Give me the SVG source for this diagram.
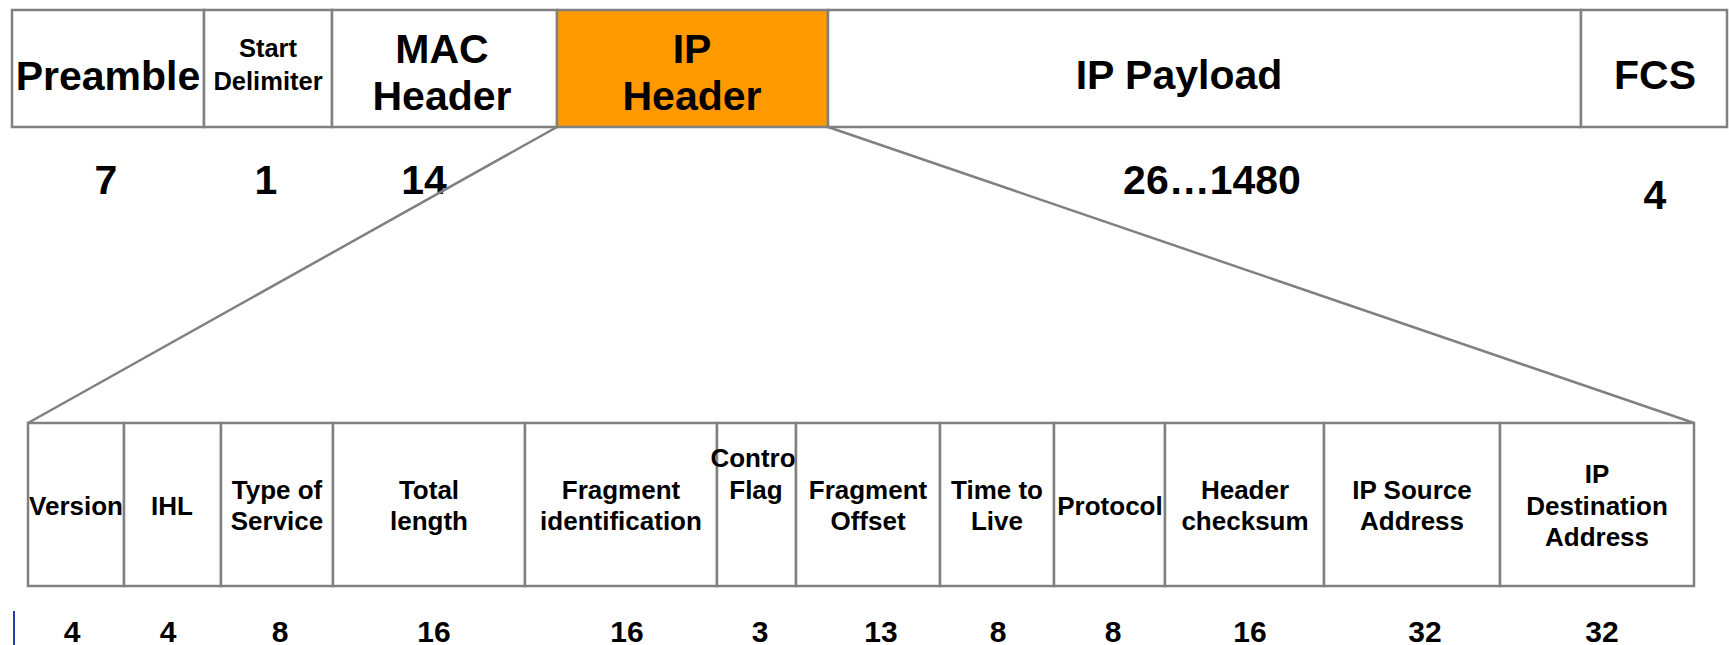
<svg xmlns="http://www.w3.org/2000/svg" width="1729" height="645" viewBox="0 0 1729 645">
  <style>
    .cell { fill: #ffffff; stroke: #808080; stroke-width: 2.5; }
    .hl { fill: #ff9900; }
    .big { font-family: "Liberation Sans", Arial, sans-serif; font-weight: bold; font-size: 41px; fill: #000; text-anchor: middle; }
    .small { font-family: "Liberation Sans", Arial, sans-serif; font-weight: bold; font-size: 25.5px; fill: #000; text-anchor: middle; }
    .fld { font-family: "Liberation Sans", Arial, sans-serif; font-weight: bold; font-size: 26px; fill: #000; text-anchor: middle; }
    .num { font-family: "Liberation Sans", Arial, sans-serif; font-weight: bold; font-size: 30px; fill: #000; text-anchor: middle; }
    .link { stroke: #808080; stroke-width: 2.5; fill: none; }
  </style>
  <rect width="1729" height="645" fill="#ffffff"/>

  <!-- Ethernet frame -->
  <g id="preamble">
    <rect class="cell" x="12" y="10" width="192" height="117"/>
    <text class="big" x="108" y="90">Preamble</text>
    <text class="big" x="106" y="194">7</text>
  </g>
  <g id="start-delimiter">
    <rect class="cell" x="204" y="10" width="128" height="117"/>
    <text class="small" x="268" y="57">Start</text>
    <text class="small" x="268" y="90">Delimiter</text>
    <text class="big" x="266" y="194">1</text>
  </g>
  <g id="mac-header">
    <rect class="cell" x="332" y="10" width="225" height="117"/>
    <text class="big" x="442" y="63">MAC</text>
    <text class="big" x="442" y="110">Header</text>
    <text class="big" x="424" y="194">14</text>
  </g>
  <g id="ip-header">
    <rect class="cell hl" x="557" y="10" width="271" height="117"/>
    <text class="big" x="692" y="63">IP</text>
    <text class="big" x="692" y="110">Header</text>
  </g>
  <g id="ip-payload">
    <rect class="cell" x="828" y="10" width="753" height="117"/>
    <text class="big" x="1179" y="89">IP Payload</text>
    <text class="big" x="1212" y="194">26…1480</text>
  </g>
  <g id="fcs">
    <rect class="cell" x="1581" y="10" width="146" height="117"/>
    <text class="big" x="1655" y="89">FCS</text>
    <text class="big" x="1655" y="209">4</text>
  </g>

  <!-- IP header fields -->
  <g id="version">
    <rect class="cell" x="28" y="423" width="96" height="163"/>
    <text class="fld" x="76" y="515">Version</text>
    <text class="num" x="72" y="642">4</text>
  </g>
  <g id="ihl">
    <rect class="cell" x="124" y="423" width="97" height="163"/>
    <text class="fld" x="172" y="515">IHL</text>
    <text class="num" x="168" y="642">4</text>
  </g>
  <g id="type-of-service">
    <rect class="cell" x="221" y="423" width="112" height="163"/>
    <text class="fld" x="277" y="499">Type of</text>
    <text class="fld" x="277" y="530">Service</text>
    <text class="num" x="280" y="642">8</text>
  </g>
  <g id="total-length">
    <rect class="cell" x="333" y="423" width="192" height="163"/>
    <text class="fld" x="429" y="499">Total</text>
    <text class="fld" x="429" y="530">length</text>
    <text class="num" x="434" y="642">16</text>
  </g>
  <g id="fragment-identification">
    <rect class="cell" x="525" y="423" width="192" height="163"/>
    <text class="fld" x="621" y="499">Fragment</text>
    <text class="fld" x="621" y="530">identification</text>
    <text class="num" x="627" y="642">16</text>
  </g>
  <g id="control-flag">
    <rect class="cell" x="717" y="423" width="79" height="163"/>
    <text class="fld" x="753" y="467">Contro</text>
    <text class="fld" x="756" y="499">Flag</text>
    <text class="num" x="760" y="642">3</text>
  </g>
  <g id="fragment-offset">
    <rect class="cell" x="796" y="423" width="144" height="163"/>
    <text class="fld" x="868" y="499">Fragment</text>
    <text class="fld" x="868" y="530">Offset</text>
    <text class="num" x="881" y="642">13</text>
  </g>
  <g id="time-to-live">
    <rect class="cell" x="940" y="423" width="114" height="163"/>
    <text class="fld" x="997" y="499">Time to</text>
    <text class="fld" x="997" y="530">Live</text>
    <text class="num" x="998" y="642">8</text>
  </g>
  <g id="protocol">
    <rect class="cell" x="1054" y="423" width="111" height="163"/>
    <text class="fld" x="1110" y="515">Protocol</text>
    <text class="num" x="1113" y="642">8</text>
  </g>
  <g id="header-checksum">
    <rect class="cell" x="1165" y="423" width="159" height="163"/>
    <text class="fld" x="1245" y="499">Header</text>
    <text class="fld" x="1245" y="530">checksum</text>
    <text class="num" x="1250" y="642">16</text>
  </g>
  <g id="ip-source-address">
    <rect class="cell" x="1324" y="423" width="176" height="163"/>
    <text class="fld" x="1412" y="499">IP Source</text>
    <text class="fld" x="1412" y="530">Address</text>
    <text class="num" x="1425" y="642">32</text>
  </g>
  <g id="ip-destination-address">
    <rect class="cell" x="1500" y="423" width="194" height="163"/>
    <text class="fld" x="1597" y="483">IP</text>
    <text class="fld" x="1597" y="515">Destination</text>
    <text class="fld" x="1597" y="546">Address</text>
    <text class="num" x="1602" y="642">32</text>
  </g>

  <!-- Expansion lines from the IP header down to its fields -->
  <g id="connectors">
    <line class="link" x1="557" y1="127" x2="28" y2="423"/>
    <line class="link" x1="828" y1="127" x2="1694" y2="423"/>
  </g>

  <!-- Text cursor mark at the lower left -->
  <line x1="14" y1="611" x2="14" y2="645" stroke="#2a3aa8" stroke-width="2"/>
</svg>
